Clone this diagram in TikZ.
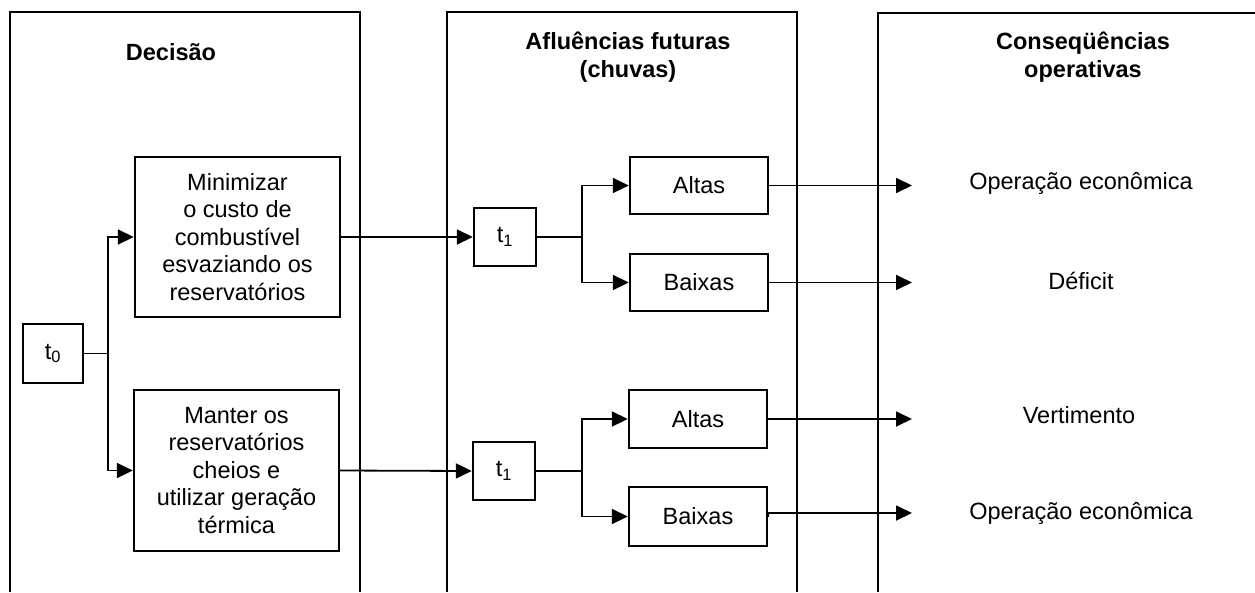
\documentclass[tikz,border=0pt]{standalone}
\usepackage{fontspec}
\setmainfont{Liberation Sans}
\usetikzlibrary{arrows.meta}
\begin{document}
\begin{tikzpicture}[x=1pt,y=-1pt,
  frame/.style={line width=2.5pt},
  box/.style={draw,line width=2.4pt,align=center,inner sep=0pt,font=\fontsize{23.5}{27.5}\selectfont},
  title/.style={align=center,font=\bfseries\fontsize{23.5}{28}\selectfont},
  cons/.style={align=center,font=\fontsize{23.5}{27.5}\selectfont},
  conn/.style={line width=1.8pt},
  arr/.style={line width=1.8pt,-{Triangle[length=16pt,width=15pt]}}]
\useasboundingbox (0,0) rectangle (1255,592);
% column frames (open at the bottom)
\draw[frame] (10,592) -- (10,12) -- (360,12) -- (360,592);
\draw[frame] (447,592) -- (447,12) -- (797,12) -- (797,592);
\draw[frame] (878,592) -- (878,13) -- (1255,13);
% titles
\node[title] (tdec) at (171,52) {Decisão};
\node[title] (taflu) at (628,57) {Afluências futuras\\(chuvas)};
\node[title] (tcons) at (1083,57) {Conseqüências\\operativas};
% decision nodes
\node[box,minimum width=60pt,minimum height=59pt] (t0) at (53,353.5) {t\textsubscript{0}};
\node[box,minimum width=205pt,minimum height=160pt] (min) at (237.5,237) {Minimizar\\o custo de\\combustível\\esvaziando os\\reservatórios};
\node[box,minimum width=205pt,minimum height=161pt] (man) at (236.5,470.5) {Manter os\\reservatórios\\cheios e\\utilizar geração\\térmica};
% inflow nodes
\node[box,minimum width=62pt,minimum height=58pt] (t1a) at (505,237) {t\textsubscript{1}};
\node[box,minimum width=62pt,minimum height=58pt] (t1b) at (504,471) {t\textsubscript{1}};
\node[box,minimum width=138pt,minimum height=57pt] (alta1) at (699,185.5) {Altas};
\node[box,minimum width=138pt,minimum height=57pt] (baixa1) at (699,282.5) {Baixas};
\node[box,minimum width=138pt,minimum height=58pt] (alta2) at (698,419) {Altas};
\node[box,minimum width=138pt,minimum height=59pt] (baixa2) at (698,516.5) {Baixas};
% consequences
\node[cons] (c1) at (1081,183) {Operação econômica};
\node[cons] (c2) at (1081,281) {Déficit};
\node[cons] (c3) at (1079,415) {Vertimento};
\node[cons] (c4) at (1081,513) {Operação econômica};
% junctions
\coordinate (j0) at (108,353.5);
\coordinate (ja) at (582,237);
\coordinate (jb) at (582,471);
\coordinate (e1) at (912,185.5);
\coordinate (e2) at (912,282.5);
\coordinate (e3) at (912,419);
\coordinate (e4) at (912,513);
% connectors
\draw[conn] (t0.east) -- (j0);
\draw[arr] (j0) |- (min.west);
\draw[arr] (j0) |- (man.west);
\draw[arr] (min.east) -- (t1a.west);
\draw[arr] (man.east) -- (t1b.west);
\draw[conn] (t1a.east) -- (ja);
\draw[arr] (ja) |- (alta1.west);
\draw[arr] (ja) |- (baixa1.west);
\draw[conn] (t1b.east) -- (jb);
\draw[arr] (jb) |- (alta2.west);
\draw[arr] (jb) |- (baixa2.west);
\draw[arr] (alta1.east) -- (e1);
\draw[arr] (baixa1.east) -- (e2);
\draw[arr] (alta2.east) -- (e3);
\draw[arr] (baixa2.east) -- (e4 -| baixa2.east) -- (e4);
\end{tikzpicture}
\end{document}
